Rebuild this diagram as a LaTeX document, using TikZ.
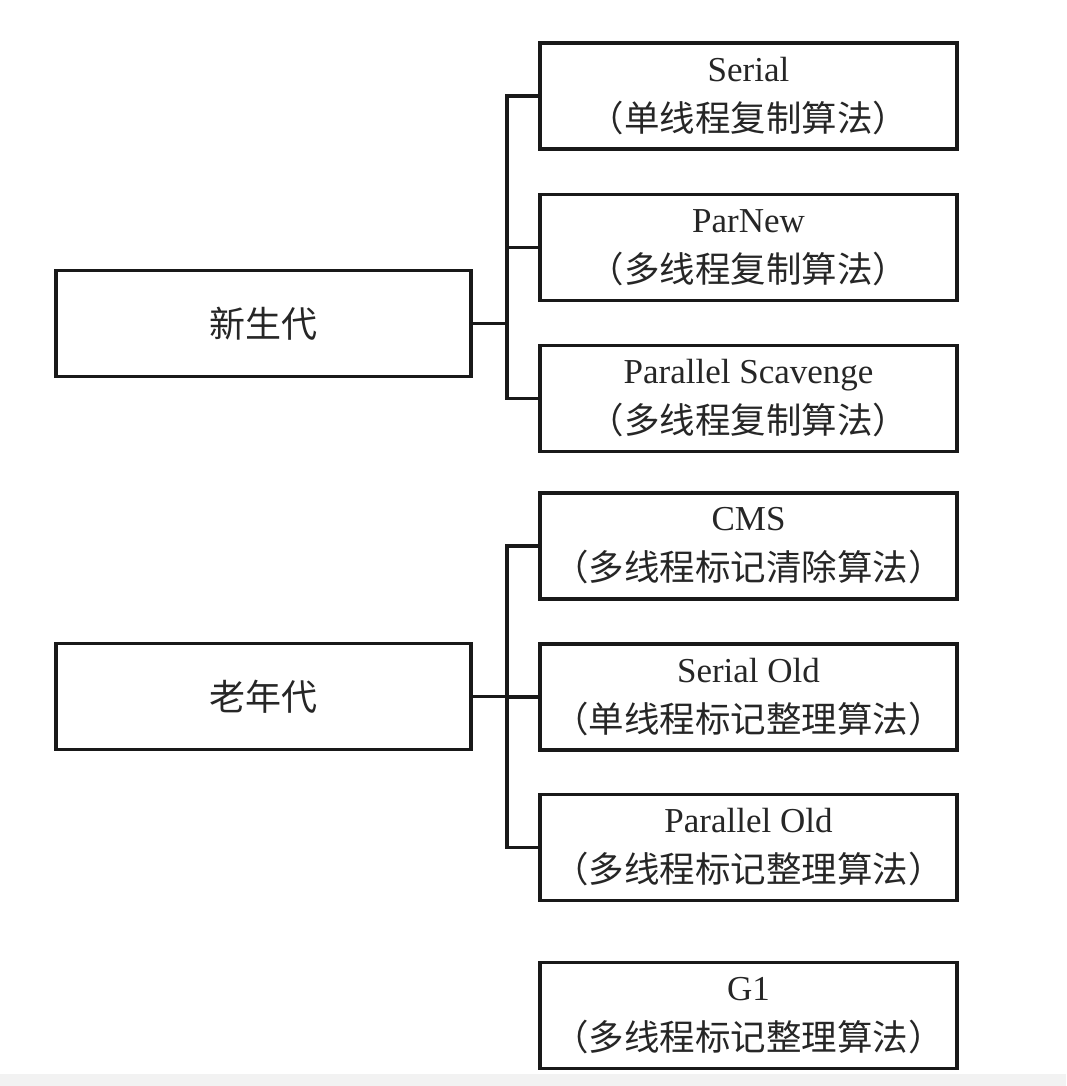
\documentclass[tikz,border=0pt]{standalone}
\usepackage{fontspec}
\setmainfont{Liberation Serif}
\newfontfamily\cjk{Noto Sans CJK SC}
\begin{document}
\begin{tikzpicture}[x=1pt,y=-1pt,
  box/.style={draw=black!90, line width=3.2pt, rectangle, inner sep=0pt, align=center, text=black!85},
  rbox/.style={box, minimum width=417pt, minimum height=106pt, font=\fontsize{35}{50}\selectfont},
  lbox/.style={box, minimum width=415pt, minimum height=106pt, font=\fontsize{36}{40}\selectfont},
  cj/.style={font=\cjk\fontsize{35}{50}\selectfont},
  link/.style={line width=3.2pt, draw=black!90}]
\useasboundingbox[fill=white] (0,0) rectangle (1066,1086);
\fill[black!5] (0,1074) rectangle (1066,1086);
% left boxes
\node[lbox] (young) at (263.5,323.5) {\cjk 新生代};
\node[lbox] (old) at (263.5,696.5) {\cjk 老年代};
% right boxes
\node[rbox] (serial) at (748.5,96) {Serial\\{\cjk\fontsize{35.5}{50}\selectfont （单线程复制算法）}};
\node[rbox] (parnew) at (748.5,247.5) {ParNew\\{\cjk\fontsize{35.5}{50}\selectfont （多线程复制算法）}};
\node[rbox] (ps) at (748.5,398.5) {Parallel Scavenge\\{\cjk\fontsize{35.5}{50}\selectfont （多线程复制算法）}};
\node[rbox] (cms) at (748.5,546) {CMS\\{\cjk\fontsize{35.5}{50}\selectfont （多线程标记清除算法）}};
\node[rbox] (sold) at (748.5,697) {Serial Old\\{\cjk\fontsize{35.5}{50}\selectfont （单线程标记整理算法）}};
\node[rbox] (pold) at (748.5,847.5) {Parallel Old\\{\cjk\fontsize{35.5}{50}\selectfont （多线程标记整理算法）}};
\node[rbox] (g1) at (748.5,1015.5) {G1\\{\cjk\fontsize{35.5}{50}\selectfont （多线程标记整理算法）}};
% connectors
\coordinate (b1) at (507,323.5);
\coordinate (b2) at (507,696.5);
\draw[link] (young.east) -- (b1);
\draw[link] (serial.west) -| (b1);
\draw[link] (ps.west) -| (b1);
\draw[link] (parnew.west) -- (parnew.west -| b1);
\draw[link] (old.east) -- (b2);
\draw[link] (cms.west) -| (b2);
\draw[link] (pold.west) -| (b2);
\draw[link] (sold.west) -- (sold.west -| b2);
\end{tikzpicture}
\end{document}
